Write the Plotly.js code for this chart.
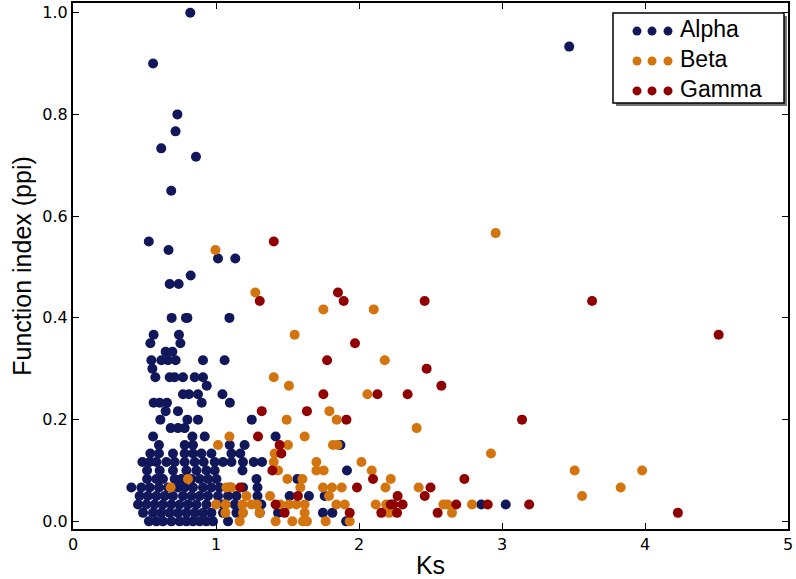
<!DOCTYPE html>
<html>
<head>
<meta charset="utf-8">
<script src="https://cdn.plot.ly/plotly-3.0.1.min.js"></script>
<style>html,body{margin:0;padding:0;background:#fff;}#chart{width:796px;height:579px;}</style>
</head>
<body>
<div id="chart"></div>
<script>
// ---- Data ----
const seriesNames = ["Alpha", "Beta", "Gamma"];
const seriesColors = ["#10175a", "#d4740f", "#900000"];

const alphaX = [
  0.82, 0.56, 3.47, 0.73, 0.717, 0.617, 0.86, 0.687, 0.53, 0.668, 1.014, 1.135, 0.823, 0.676, 0.739, 1.094,
  0.69, 0.79, 0.80,
  0.564, 0.741,
  0.541, 0.751,
  0.648, 0.695,
  0.548, 0.618, 0.664, 0.718, 0.909, 1.06,
  0.555,
  0.576, 0.676, 0.711, 0.769, 0.851, 0.909,
  0.935,
  0.769, 0.811, 0.874, 1.045,
  0.564, 0.606, 0.657, 0.9, 1.097,
  0.648, 0.734,
  0.611, 0.8, 0.874, 1.25,
  0.683, 0.734, 0.781,
  0.56, 0.835, 0.921, 1.417,
  0.601, 0.781, 0.839, 1.096, 1.2, 1.87,
  0.541, 0.601, 0.699, 0.781, 0.839, 0.898, 0.968, 1.108, 1.17,
  0.485, 0.536, 0.583, 0.653, 0.711, 0.781, 0.851, 0.914, 0.991, 1.049, 1.108, 1.189, 1.264, 1.322,
  0.518, 0.606, 0.699, 0.793, 0.863, 0.933, 0.991, 1.185, 1.916,
  0.518, 0.583, 0.629, 0.711, 0.758, 0.828, 0.886, 0.944, 1.003, 1.283, 1.569,
  0.408, 0.478, 0.536, 0.601, 0.664, 0.734, 0.781, 0.839, 0.909, 0.968, 1.026, 1.096, 1.189, 1.29,
  0.466, 0.524, 0.583, 0.641, 0.699, 0.769, 0.828, 0.886, 0.944, 1.014, 1.084, 1.143, 1.29, 1.515, 1.65, 1.76,
  0.455, 0.513, 0.571, 0.629, 0.688, 0.746, 0.804, 0.863, 0.933, 1.049, 1.131, 1.317, 2.855, 3.026,
  0.49, 0.559, 0.618, 0.676, 0.734, 0.793, 0.851, 0.909, 0.968, 1.049, 1.143, 1.185, 1.306, 1.434, 1.748, 1.814,
  0.531, 0.583, 0.629, 0.688, 0.746, 0.793, 0.839, 0.886, 0.933, 0.979, 1.084, 1.91
];
const alphaY = [
  1.0, 0.9, 0.9333, 0.8, 0.7667, 0.7333, 0.7167, 0.65, 0.55, 0.5333, 0.5167, 0.5167, 0.4833, 0.4667, 0.4667, 0.4,
  0.4, 0.4, 0.4,
  0.3667, 0.3667,
  0.35, 0.35,
  0.3333, 0.3333,
  0.3167, 0.3167, 0.3167, 0.3167, 0.3167, 0.3167,
  0.3,
  0.2833, 0.2833, 0.2833, 0.2833, 0.2833, 0.2833,
  0.2667,
  0.25, 0.25, 0.25, 0.25,
  0.2333, 0.2333, 0.2333, 0.2333, 0.2333,
  0.2167, 0.2167,
  0.2, 0.2, 0.2, 0.2,
  0.1833, 0.1833, 0.1833,
  0.1667, 0.1667, 0.1667, 0.1667,
  0.15, 0.15, 0.15, 0.15, 0.15, 0.15,
  0.1333, 0.1333, 0.1333, 0.1333, 0.1333, 0.1333, 0.1333, 0.1333, 0.1333,
  0.1167, 0.1167, 0.1167, 0.1167, 0.1167, 0.1167, 0.1167, 0.1167, 0.1167, 0.1167, 0.1167, 0.1167, 0.1167, 0.1167,
  0.1, 0.1, 0.1, 0.1, 0.1, 0.1, 0.1, 0.1, 0.1,
  0.0833, 0.0833, 0.0833, 0.0833, 0.0833, 0.0833, 0.0833, 0.0833, 0.0833, 0.0833, 0.0833,
  0.0667, 0.0667, 0.0667, 0.0667, 0.0667, 0.0667, 0.0667, 0.0667, 0.0667, 0.0667, 0.0667, 0.0667, 0.0667, 0.0667,
  0.05, 0.05, 0.05, 0.05, 0.05, 0.05, 0.05, 0.05, 0.05, 0.05, 0.05, 0.05, 0.05, 0.05, 0.05, 0.05,
  0.0333, 0.0333, 0.0333, 0.0333, 0.0333, 0.0333, 0.0333, 0.0333, 0.0333, 0.0333, 0.0333, 0.0333, 0.0333, 0.0333,
  0.0167, 0.0167, 0.0167, 0.0167, 0.0167, 0.0167, 0.0167, 0.0167, 0.0167, 0.0167, 0.0167, 0.0167, 0.0167, 0.0167, 0.0167, 0.0167,
  0, 0, 0, 0, 0, 0, 0, 0, 0, 0, 0, 0
];

const betaX = [
  2.956, 0.996, 1.275, 1.751, 2.103, 1.55, 2.18, 1.404, 1.51, 2.059, 1.793, 1.494, 1.844, 2.403,
  1.094, 1.62, 1.014, 1.503, 1.818, 1.85, 1.41, 2.923,
  1.404, 1.702, 2.017,
  1.434, 1.702, 1.753, 2.089, 3.508, 3.98,
  0.804, 1.499, 1.604, 2.222,
  0.683, 1.073, 1.108, 1.59, 1.748, 1.811, 1.879, 2.185, 2.417, 3.83,
  1.213, 1.378, 1.79, 3.56,
  1.0, 1.068, 1.185, 1.248, 1.287, 1.45, 1.51, 1.562, 1.62, 1.842, 1.9, 2.117, 2.19, 2.59, 2.62, 2.79,
  1.066, 1.189, 1.306, 1.62, 2.21, 2.65,
  1.166, 1.417, 1.534, 1.608, 1.636, 1.767, 1.935
];
const betaY = [
  0.5667, 0.5333, 0.45, 0.4167, 0.4167, 0.3667, 0.3167, 0.2833, 0.2667, 0.25, 0.2167, 0.2, 0.2, 0.1833,
  0.1667, 0.1667, 0.15, 0.15, 0.15, 0.15, 0.1333, 0.1333,
  0.1167, 0.1167, 0.1167,
  0.1, 0.1, 0.1, 0.1, 0.1, 0.1,
  0.0833, 0.0833, 0.0833, 0.0833,
  0.0667, 0.0667, 0.0667, 0.0667, 0.0667, 0.0667, 0.0667, 0.0667, 0.0667, 0.0667,
  0.05, 0.05, 0.05, 0.05,
  0.0333, 0.0333, 0.0333, 0.0333, 0.0333, 0.0333, 0.0333, 0.0333, 0.0333, 0.0333, 0.0333, 0.0333, 0.0333, 0.0333, 0.0333, 0.0333,
  0.0167, 0.0167, 0.0167, 0.0167, 0.0167, 0.0167,
  0, 0, 0, 0, 0, 0, 0
];

const gammaX = [
  1.404, 1.306, 1.853, 1.893, 2.459, 3.63, 4.515, 1.972, 1.777, 2.473, 2.576, 1.751, 2.129, 2.34,
  1.32, 1.636, 1.912, 3.14, 1.294, 1.445, 1.457, 1.394, 2.098, 2.737, 1.17, 1.986, 2.5,
  1.573, 2.27, 2.46, 1.417, 2.222, 2.24, 2.305, 2.68, 2.9, 3.19,
  1.48, 1.935, 2.156, 2.266, 2.55, 4.23
];
const gammaY = [
  0.55, 0.4333, 0.45, 0.4333, 0.4333, 0.4333, 0.3667, 0.35, 0.3167, 0.3, 0.2667, 0.25, 0.25, 0.25,
  0.2167, 0.2167, 0.2, 0.2, 0.1667, 0.15, 0.1333, 0.1, 0.0833, 0.0833, 0.0667, 0.0667, 0.0667,
  0.05, 0.05, 0.05, 0.0333, 0.0333, 0.0333, 0.0333, 0.0333, 0.0333, 0.0333,
  0.0167, 0.0167, 0.0167, 0.0167, 0.0167, 0.0167
];

const xTickVals = [0, 1, 2, 3, 4, 5];
const yTickVals = [0, 0.2, 0.4, 0.6, 0.8, 1.0];
const yTickText = ["0.0", "0.2", "0.4", "0.6", "0.8", "1.0"];

// ---- Traces ----
const xs = [alphaX, betaX, gammaX];
const ys = [alphaY, betaY, gammaY];
const traces = seriesNames.map((n, i) => ({
  type: "scatter", mode: "markers", name: n,
  x: xs[i], y: ys[i],
  marker: { color: seriesColors[i], size: 10, line: { width: 0 } },
  hoverinfo: "x+y+name"
}));

// ---- Legend drawn matplotlib-style (3 dots per entry) ----
const W = 796, H = 579;
const M = { l: 73, r: 8, t: 3, b: 50 };
const pw = W - M.l - M.r, ph = H - M.t - M.b;
const px2x = p => (p - M.l) / pw;
const py2y = p => (H - M.b - p) / ph;

const legendFont = 23;
const shapes = [];
const annotations = [];
// shadow + box
shapes.push({ type: "rect", xref: "paper", yref: "paper",
  x0: px2x(616), x1: px2x(787), y0: py2y(106), y1: py2y(16),
  line: { width: 0 }, fillcolor: "rgba(0,0,0,0.55)", layer: "above" });
shapes.push({ type: "rect", xref: "paper", yref: "paper",
  x0: px2x(613), x1: px2x(784), y0: py2y(103), y1: py2y(13),
  line: { width: 1.5, color: "#000" }, fillcolor: "#fff", layer: "above" });
const lineGap = legendFont * 1.3;
const midRow = 59;
const dotX = [637, 652, 668];
const r = 4.5;
seriesNames.forEach((n, i) => {
  const cy = midRow + (i - 1) * lineGap + 2;
  dotX.forEach(cx => {
    shapes.push({ type: "circle", xref: "paper", yref: "paper",
      x0: px2x(cx - r), x1: px2x(cx + r), y0: py2y(cy + r), y1: py2y(cy - r),
      line: { width: 0 }, fillcolor: seriesColors[i], layer: "above" });
  });
});
annotations.push({ xref: "paper", yref: "paper", x: px2x(679), y: py2y(midRow),
  xanchor: "left", yanchor: "middle", align: "left", showarrow: false, borderpad: 0,
  text: seriesNames.join("<br>"),
  font: { family: "Liberation Sans, Arial, sans-serif", size: legendFont, color: "#000" } });

const layout = {
  width: W, height: H,
  margin: M,
  paper_bgcolor: "#fff", plot_bgcolor: "#fff",
  showlegend: false,
  xaxis: {
    range: [0, 5], tickvals: xTickVals, ticks: "inside", ticklen: 6, tickwidth: 1, tickcolor: "#000",
    showline: true, linecolor: "#000", linewidth: 2, mirror: "allticks", showgrid: false, zeroline: false,
    tickfont: { family: "DejaVu Sans, sans-serif", size: 16, color: "#000" },
    title: { text: "Ks", font: { family: "Liberation Sans, Arial, sans-serif", size: 25, color: "#000" }, standoff: 6 }
  },
  yaxis: {
    range: [-0.015, 1.019], tickvals: yTickVals, ticktext: yTickText, ticks: "inside", ticklen: 6, tickwidth: 1, tickcolor: "#000",
    showline: true, linecolor: "#000", linewidth: 2, mirror: "allticks", showgrid: false, zeroline: false,
    tickfont: { family: "DejaVu Sans, sans-serif", size: 16, color: "#000" },
    title: { text: "Function index (ppi)", font: { family: "Liberation Sans, Arial, sans-serif", size: 25, color: "#000" }, standoff: 4 }
  },
  shapes: shapes,
  annotations: annotations
};

Plotly.newPlot("chart", traces, layout, { displayModeBar: false, staticPlot: true });
</script>
</body>
</html>
